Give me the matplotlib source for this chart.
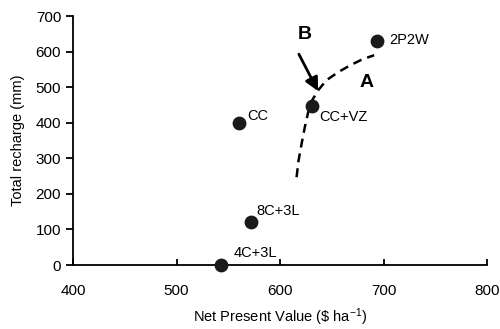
import matplotlib
matplotlib.use("Agg")
import matplotlib.pyplot as plt

plt.rcParams['font.family'] = ['Liberation Sans', 'DejaVu Sans']
plt.rcParams['mathtext.fontset'] = 'custom'
plt.rcParams['mathtext.rm'] = 'Liberation Sans'
plt.rcParams['mathtext.default'] = 'rm'

# scenario points
labels = ['4C+3L', '8C+3L', 'CC', 'CC+VZ', '2P2W']
npv = [543, 572, 560, 631, 694]
recharge = [0, 120, 400, 447, 630]

# hand-drawn frontier (dashed)
front_x = [616, 618, 621, 624, 627, 631, 637, 645, 656, 668, 680, 691]
front_y = [247, 295, 343, 388, 427, 463, 492, 520, 542, 562, 579, 590]

# label offsets in points (dx, dy) per scenario
offsets = [(9, 9), (3.5, 8.5), (6.5, 5), (5, -8), (8.5, 0.5)]

fig = plt.figure(figsize=(5.0, 3.29), dpi=100)
ax = fig.add_axes([0.146, 0.1945, 0.828, 0.7565])

ax.plot(front_x, front_y, color='black', lw=1.8, ls=(0, (3.6, 2.4)))
ax.scatter(npv, recharge, s=80, color='#1a1a1a', zorder=3, clip_on=False)

for lab, x, y, (dx, dy) in zip(labels, npv, recharge, offsets):
    ax.annotate(lab, (x, y), xytext=(dx, dy), textcoords='offset points',
                fontsize=10.5, ha='left', va='center')

ax.annotate('', xy=(638, 482), xytext=(617, 600),
            arrowprops=dict(arrowstyle='-|>', color='black', lw=2,
                            mutation_scale=20))
ax.text(624, 648, 'B', fontsize=14, fontweight='bold', ha='center', va='center')
ax.text(684, 514, 'A', fontsize=14, fontweight='bold', ha='center', va='center')

ax.set_xlim(400, 800)
ax.set_ylim(0, 700)
ax.set_xticks([400, 500, 600, 700, 800])
ax.set_yticks(range(0, 701, 100))
ax.spines['top'].set_visible(False)
ax.spines['right'].set_visible(False)
for s in ['left', 'bottom']:
    ax.spines[s].set_linewidth(1.3)
ax.tick_params(axis='x', direction='in', length=4, width=1.3, labelsize=11, pad=14)
ax.tick_params(axis='y', direction='out', length=5, width=1.3, labelsize=11)
ax.set_xlabel(r'Net Present Value (\$ ha$^{-1}$)', fontsize=10.5, labelpad=6)
ax.set_ylabel('Total recharge (mm)', fontsize=10.5, labelpad=8)

fig.savefig('out.png', dpi=100)
